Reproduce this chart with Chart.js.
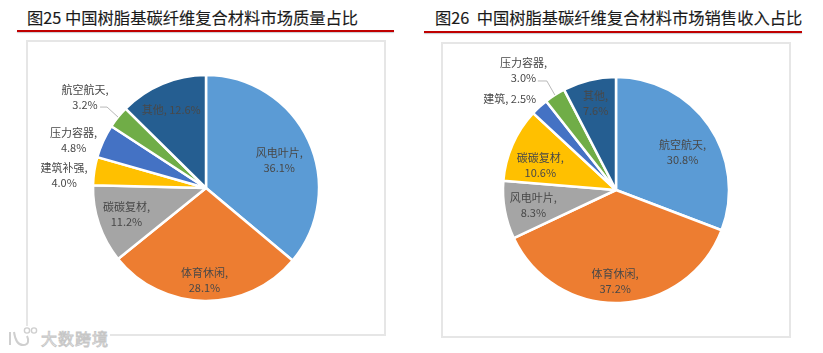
<!DOCTYPE html>
<html>
<head>
<meta charset="utf-8">
<script src="https://cdn.jsdelivr.net/npm/chart.js@4"></script>
<style>
html,body{margin:0;padding:0;background:#fff;width:823px;height:353px;overflow:hidden;font-family:"Noto Sans CJK SC",sans-serif;}
.title{position:absolute;font-size:16.3px;line-height:22px;color:#1a1a1a;white-space:pre;-webkit-text-stroke:0.15px #1a1a1a;}
.rule{position:absolute;height:2px;background:#c00000;box-shadow:0 1px 1px rgba(120,120,140,.4);}
.frame{position:absolute;box-sizing:border-box;border:2px solid #e6e6e6;}
.frame canvas{position:absolute;left:-2px;top:-2px;}
.mark{position:absolute;left:6px;top:326px;width:104px;height:24px;background:#fff;}
.mark svg{position:absolute;left:2px;top:0;}
.mark span{position:absolute;left:35px;top:1px;font-size:16px;line-height:22px;letter-spacing:1px;color:#fff;-webkit-text-stroke:0.9px #c6c6c6;}
</style>
</head>
<body>
<div class="title" style="left:27px;top:6px;">图25 中国树脂基碳纤维复合材料市场质量占比</div>
<div class="rule" style="left:17px;top:30px;width:377px;"></div>
<div class="frame" style="left:26px;top:40px;width:360px;height:296px;"><canvas id="massPie" width="360" height="296"></canvas></div>

<div class="title" style="left:435px;top:6px;">图26  中国树脂基碳纤维复合材料市场销售收入占比</div>
<div class="rule" style="left:424px;top:31px;width:378px;"></div>
<div class="frame" style="left:441px;top:42px;width:350px;height:296px;"><canvas id="revenuePie" width="350" height="296"></canvas></div>

<div class="mark">
  <svg width="32" height="24" viewBox="0 0 32 24" fill="none" stroke="#cfcfcf" stroke-width="2">
    <path d="M2 6v13M6 6c1 7 3 13 9 13s6-5 4-9"/><circle cx="19" cy="4.5" r="2.6" stroke-width="1.4"/><circle cx="26" cy="4.5" r="2.6" stroke-width="1.4"/>
  </svg>
  <span>大数跨境</span>
</div>

<script>
const sliceColors = ['#5b9bd5', '#ed7d31', '#a5a5a5', '#ffc000', '#4472c4', '#70ad47', '#255e91'];

const massCategories = ['风电叶片', '体育休闲', '碳碳复材', '建筑补强', '压力容器', '航空航天', '其他'];
const massValues = [36.1, 28.1, 11.2, 4.0, 4.8, 3.2, 12.6];
const massInline = [false, false, false, false, false, false, true];
const massNudge = [[22, -4], [-1, 36], [-26, 8], [-86, -4], [-81, -24], [-77, -55], [-13, -26]];
const massLeaders = { 5: [[-11, -10], [-18, -10]] };

const revenueCategories = ['航空航天', '体育休闲', '风电叶片', '碳碳复材', '建筑', '压力容器', '其他'];
const revenueValues = [30.8, 37.2, 8.3, 10.6, 2.5, 3.0, 7.6];
const revenueInline = [false, false, false, false, true, false, false];
const revenueNudge = [[20, -6], [-3, 35], [-27, 5], [-24, -2], [-68, -50], [-62, -72], [-7, -32]];
const revenueLeaders = { 5: [[-8, -14], [-17, -14]] };

// data labels and leader lines, placed relative to each arc
const sliceLabels = {
    id: 'sliceLabels',
    afterDatasetsDraw(chart, args, opts) {
        const ctx = chart.ctx;
        const arcs = chart.getDatasetMeta(0).data;
        ctx.save();
        ctx.font = '11px "Noto Sans CJK SC"';
        ctx.fillStyle = '#484848';
        ctx.textAlign = 'center';
        ctx.textBaseline = 'middle';
        arcs.forEach((arc, i) => {
            const p = arc.tooltipPosition();
            const x = p.x + opts.nudge[i][0];
            const y = p.y + opts.nudge[i][1];
            const name = chart.data.labels[i];
            const pct = chart.data.datasets[0].data[i].toFixed(1) + '%';
            if (opts.inline[i]) {
                ctx.fillText(name + ', ' + pct, x, y);
            } else {
                ctx.fillText(name + ',', x, y - 7.5);
                ctx.fillText(pct, x, y + 7.5);
            }
            const bends = opts.leaders[i];
            if (bends) {
                const mid = (arc.startAngle + arc.endAngle) / 2;
                const ex = arc.x + Math.cos(mid) * arc.outerRadius;
                const ey = arc.y + Math.sin(mid) * arc.outerRadius;
                ctx.beginPath();
                ctx.moveTo(ex, ey);
                bends.forEach(b => ctx.lineTo(ex + b[0], ey + b[1]));
                ctx.strokeStyle = '#a6a6a6';
                ctx.lineWidth = 0.8;
                ctx.stroke();
            }
        });
        ctx.restore();
    }
};

function drawPie(id, labels, values, inline, nudge, leaders) {
    new Chart(document.getElementById(id), {
        type: 'pie',
        data: {
            labels,
            datasets: [{ data: values, backgroundColor: sliceColors, borderColor: '#fff', borderWidth: 2.5 }]
        },
        options: {
            responsive: false,
            animation: false,
            radius: 113,
            plugins: {
                legend: { display: false },
                tooltip: { enabled: false },
                sliceLabels: { inline, nudge, leaders }
            }
        },
        plugins: [sliceLabels]
    });
}

drawPie('massPie', massCategories, massValues, massInline, massNudge, massLeaders);
drawPie('revenuePie', revenueCategories, revenueValues, revenueInline, revenueNudge, revenueLeaders);
</script>
</body>
</html>
